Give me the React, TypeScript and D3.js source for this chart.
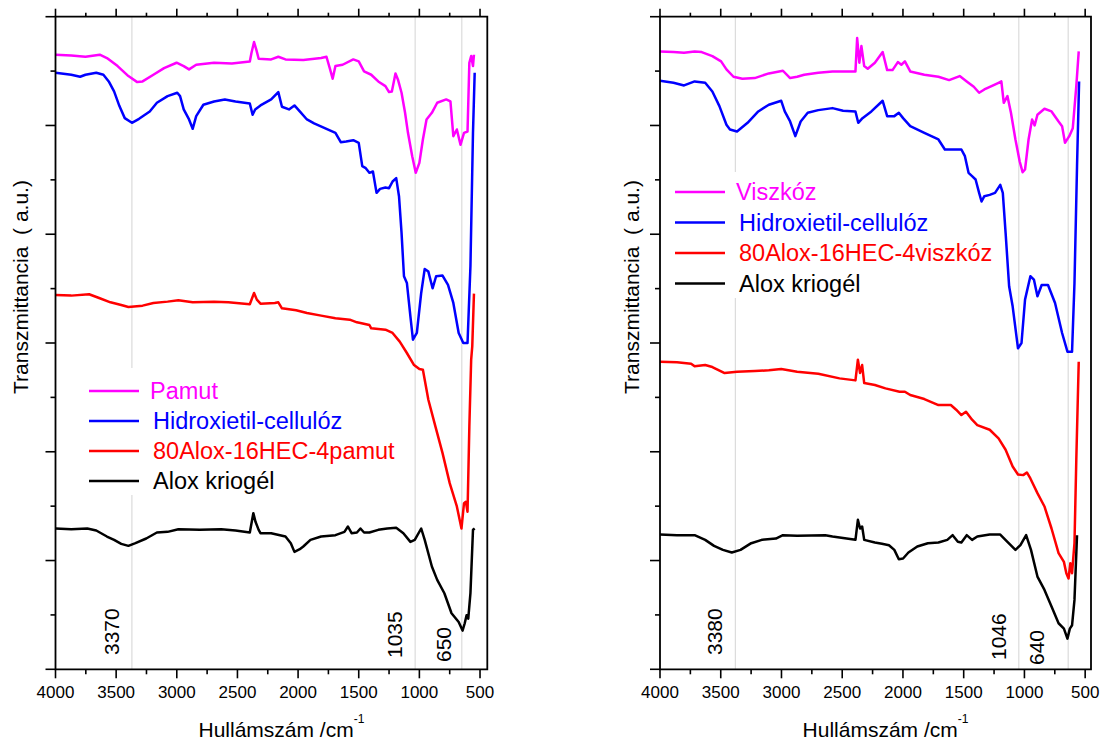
import React from "react";
import * as d3 from "d3";

type Pt = [number, number];

// wavenumber (cm-1), transmittance (a.u., stacked/offset as in the figure)
const pamut: Pt[] = [
  [4000, 92.1], [3870, 92.0], [3753, 91.8], [3635, 92.1], [3576, 91.6], [3488, 90.4], [3399, 88.9], [3326, 88.0],
  [3282, 88.1], [3193, 89.1], [3105, 90.1], [3002, 90.9], [2943, 90.4], [2899, 89.9], [2840, 90.6], [2693, 90.9],
  [2546, 90.8], [2398, 91.1], [2384, 92.4], [2363, 94.0], [2345, 92.9], [2325, 91.5], [2222, 91.4], [2163, 91.8],
  [2104, 91.4], [1957, 91.3], [1810, 91.6], [1766, 91.8], [1736, 89.9], [1715, 88.5], [1692, 90.4], [1633, 90.6],
  [1545, 91.4], [1500, 91.1], [1456, 89.6], [1397, 89.1], [1339, 88.1], [1280, 87.4], [1250, 86.5], [1227, 86.6],
  [1197, 89.3], [1177, 88.4], [1147, 86.4], [1118, 83.4], [1094, 80.4], [1059, 76.9], [1030, 74.4], [1000, 75.9],
  [971, 79.4], [941, 82.4], [897, 83.4], [853, 84.9], [779, 85.4], [744, 85.1], [720, 79.9], [691, 80.9],
  [661, 78.6], [632, 80.4], [603, 80.6], [588, 90.9], [573, 91.9], [558, 90.4], [550, 92.1],
];

const hecLeft: Pt[] = [
  [4000, 89.4], [3870, 89.1], [3797, 88.8], [3753, 89.1], [3664, 89.4], [3605, 89.1], [3561, 88.1], [3517, 86.6],
  [3473, 84.4], [3429, 82.6], [3370, 81.9], [3311, 82.5], [3223, 83.6], [3164, 84.9], [3076, 85.9], [2996, 86.4],
  [2973, 85.9], [2943, 83.9], [2899, 82.4], [2869, 81.0], [2840, 82.9], [2781, 84.6], [2693, 85.1], [2604, 85.4],
  [2516, 85.1], [2398, 84.8], [2375, 83.1], [2354, 83.9], [2310, 84.5], [2222, 85.4], [2163, 86.5], [2133, 84.3],
  [2075, 83.9], [2030, 84.5], [1986, 83.6], [1927, 82.4], [1868, 81.8], [1780, 81.1], [1692, 80.4], [1648, 79.0],
  [1604, 79.1], [1545, 79.3], [1500, 78.9], [1471, 75.4], [1442, 75.1], [1412, 74.4], [1383, 74.6], [1353, 71.4],
  [1324, 72.0], [1280, 72.2], [1250, 72.1], [1221, 73.1], [1191, 73.6], [1168, 70.9], [1147, 65.4], [1127, 58.9],
  [1103, 57.9], [1074, 52.9], [1053, 49.4], [1021, 50.4], [985, 56.4], [956, 60.0], [926, 59.6], [891, 57.1],
  [862, 58.9], [809, 59.0], [764, 57.6], [720, 54.9], [676, 50.4], [638, 48.9], [603, 48.9], [579, 60.4],
  [558, 80.4], [544, 89.4],
];

const aloxHecPamut: Pt[] = [
  [4000, 56.1], [3870, 56.0], [3723, 56.2], [3635, 55.6], [3547, 55.0], [3458, 54.6], [3399, 54.3], [3282, 54.5],
  [3193, 54.9], [3076, 55.1], [2987, 55.3], [2869, 55.0], [2693, 55.1], [2575, 55.0], [2398, 54.7], [2363, 56.4],
  [2340, 55.4], [2310, 54.8], [2192, 54.9], [2163, 55.0], [2133, 54.1], [2016, 53.8], [1927, 53.4], [1810, 53.0],
  [1692, 52.6], [1574, 52.4], [1515, 52.0], [1486, 51.9], [1412, 51.6], [1397, 51.1], [1280, 50.9], [1221, 50.4],
  [1162, 49.1], [1103, 47.4], [1044, 45.6], [1000, 45.0], [971, 44.9], [926, 40.4], [868, 36.4], [809, 32.4],
  [750, 27.9], [691, 24.4], [653, 21.1], [632, 24.9], [617, 25.1], [603, 23.6], [588, 36.4], [573, 46.4],
  [564, 48.4], [550, 56.3],
];

const aloxLeft: Pt[] = [
  [4000, 21.1], [3870, 21.0], [3738, 21.1], [3664, 20.8], [3576, 19.9], [3517, 19.4], [3458, 18.8], [3399, 18.5],
  [3341, 18.9], [3252, 19.6], [3164, 20.5], [3076, 20.6], [2987, 21.0], [2811, 20.9], [2634, 21.0], [2516, 20.8],
  [2398, 20.5], [2369, 23.4], [2351, 22.1], [2325, 20.9], [2310, 20.4], [2222, 20.4], [2104, 19.9], [2060, 18.9],
  [2030, 17.6], [1986, 18.0], [1957, 18.4], [1898, 19.4], [1810, 19.9], [1692, 20.1], [1618, 20.6], [1589, 21.4],
  [1559, 20.4], [1515, 20.5], [1486, 21.1], [1456, 20.5], [1412, 20.5], [1339, 20.9], [1265, 21.1], [1191, 21.2],
  [1132, 20.4], [1074, 19.1], [1038, 19.4], [985, 21.1], [956, 19.4], [897, 15.4], [853, 13.4], [794, 11.4],
  [735, 8.4], [676, 7.1], [644, 5.8], [626, 6.9], [611, 8.1], [597, 7.6], [579, 11.4], [558, 20.9], [544, 21.1],
];

const viszkoz: Pt[] = [
  [4000, 92.6], [3889, 92.5], [3802, 92.4], [3715, 92.6], [3657, 92.5], [3569, 91.9], [3497, 91.1], [3453, 89.9],
  [3395, 88.8], [3322, 88.5], [3220, 88.6], [3104, 89.3], [2988, 89.7], [2929, 88.6], [2871, 88.8], [2813, 89.1],
  [2697, 89.4], [2580, 89.6], [2391, 89.6], [2377, 94.6], [2359, 90.9], [2342, 93.4], [2319, 90.4], [2290, 90.0],
  [2231, 90.9], [2167, 92.5], [2130, 89.8], [2086, 89.8], [2042, 91.0], [2013, 90.6], [1984, 91.1], [1940, 89.6],
  [1824, 89.1], [1708, 88.8], [1620, 88.3], [1533, 88.9], [1475, 88.1], [1417, 87.3], [1373, 86.4], [1330, 86.9],
  [1271, 87.4], [1213, 87.9], [1190, 88.1], [1170, 84.9], [1140, 85.9], [1111, 83.4], [1074, 79.4], [1039, 76.1],
  [1015, 74.5], [995, 74.9], [966, 79.4], [937, 82.4], [916, 81.5], [893, 83.1], [835, 84.0], [777, 83.6],
  [719, 82.1], [690, 81.4], [666, 78.9], [631, 79.9], [602, 81.1], [573, 87.4], [553, 92.6],
];

const hecRight: Pt[] = [
  [4000, 88.2], [3889, 87.9], [3802, 87.5], [3715, 88.1], [3628, 87.9], [3569, 86.6], [3511, 84.4], [3453, 81.6],
  [3424, 80.9], [3366, 80.6], [3279, 81.9], [3191, 83.6], [3104, 84.6], [3002, 85.2], [2973, 83.6], [2929, 82.1],
  [2886, 79.9], [2842, 82.1], [2784, 83.4], [2697, 83.8], [2580, 84.1], [2493, 83.7], [2391, 83.6], [2368, 81.9],
  [2333, 82.6], [2260, 83.6], [2167, 85.2], [2130, 82.9], [2071, 82.9], [2034, 83.4], [1999, 82.6], [1940, 81.4],
  [1824, 80.4], [1708, 79.4], [1655, 77.9], [1591, 77.9], [1519, 77.9], [1490, 76.9], [1460, 74.4], [1431, 73.9],
  [1402, 73.4], [1373, 71.4], [1353, 70.1], [1330, 70.9], [1286, 71.1], [1242, 71.4], [1199, 72.6], [1178, 71.4],
  [1155, 65.4], [1126, 57.4], [1097, 54.4], [1053, 48.1], [1024, 48.9], [995, 55.4], [951, 58.9], [922, 58.4],
  [893, 55.9], [858, 57.6], [806, 57.6], [748, 54.9], [690, 50.4], [646, 47.6], [608, 47.6], [588, 57.9],
  [567, 75.4], [550, 88.1],
];

const aloxHecViszkoz: Pt[] = [
  [4000, 46.1], [3860, 46.0], [3744, 45.8], [3715, 45.4], [3628, 45.6], [3569, 45.3], [3468, 44.4], [3366, 44.6],
  [3220, 44.7], [3104, 44.8], [3002, 45.0], [2871, 44.6], [2697, 44.3], [2522, 43.6], [2391, 43.3], [2371, 46.4],
  [2353, 44.4], [2336, 45.6], [2319, 42.9], [2231, 42.6], [2144, 42.1], [2028, 41.6], [1984, 41.6], [1940, 41.1],
  [1824, 40.5], [1708, 39.6], [1606, 39.6], [1562, 38.9], [1519, 38.1], [1481, 38.6], [1431, 37.4], [1388, 36.6],
  [1286, 35.9], [1213, 34.6], [1155, 32.9], [1097, 30.4], [1053, 29.2], [1010, 29.1], [980, 29.5], [951, 28.6],
  [893, 26.4], [835, 24.4], [777, 21.1], [719, 17.4], [675, 16.1], [655, 14.4], [637, 13.6], [622, 15.9],
  [608, 14.4], [588, 18.9], [573, 31.4], [553, 46.1],
];

const aloxRight: Pt[] = [
  [4000, 20.2], [3860, 20.1], [3715, 20.1], [3628, 19.4], [3555, 18.5], [3482, 17.9], [3409, 17.5], [3337, 17.9],
  [3249, 18.9], [3162, 19.4], [3046, 19.6], [2988, 20.1], [2871, 20.0], [2639, 20.1], [2580, 19.9], [2391, 19.4],
  [2371, 22.4], [2353, 21.1], [2336, 21.4], [2319, 19.4], [2231, 19.0], [2173, 18.8], [2115, 18.6], [2071, 17.9],
  [2034, 16.5], [1999, 16.6], [1955, 17.5], [1882, 18.4], [1795, 18.9], [1708, 19.0], [1635, 19.4], [1591, 20.1],
  [1548, 19.1], [1519, 19.0], [1475, 20.1], [1431, 19.4], [1388, 19.9], [1286, 20.2], [1199, 20.2], [1140, 19.1],
  [1074, 17.9], [1033, 18.6], [986, 20.1], [946, 17.9], [893, 13.9], [835, 11.9], [777, 9.4], [719, 6.9],
  [675, 6.1], [646, 4.6], [626, 6.1], [608, 6.6], [588, 10.4], [567, 20.1],
];

const xTicks = [4000, 3500, 3000, 2500, 2000, 1500, 1000, 500];
const leftNames = ["Pamut", "Hidroxietil-cellulóz", "80Alox-16HEC-4pamut", "Alox kriogél"];
const rightNames = ["Viszkóz", "Hidroxietil-cellulóz", "80Alox-16HEC-4viszkóz", "Alox kriogél"];
const colors = ["#ff00ff", "#0000ff", "#ff0000", "#000000"];
const leftMarks = [3370, 1035, 650];
const rightMarks = [3380, 1046, 640];
const yMax = 97.8;

const font = "'Liberation Sans', Arial, sans-serif";
const TOP = 16.7;
const BOTTOM = 669.3;

function Panel({ x0, x1, xEnd, series, names, marks, markDx, markY, legX, legY, legStep, legBox, yLabX }: any) {
  const x = d3.scaleLinear().domain([4000, xEnd]).range([x0, x1]);
  const y = d3.scaleLinear().domain([0, yMax]).range([BOTTOM, TOP]);
  const line = d3.line<Pt>().x(d => x(d[0])).y(d => y(d[1]));
  const minor = d3.range(4000, xEnd, -250);
  const yTicks = d3.range(0, 13).map(i => (i * yMax) / 12);

  return (
    <g fontFamily={font}>
      {/* reference lines */}
      {marks.map((m: number) => (
        <line key={m} x1={x(m)} x2={x(m)} y1={TOP} y2={BOTTOM} stroke="#d4d4d4" strokeWidth={1} />
      ))}
      <rect x={legBox[0]} y={legBox[1]} width={legBox[2]} height={legBox[3]} fill="#fff" />
      {marks.map((m: number, i: number) => (
        <text key={"t" + m} transform={`translate(${x(m) + markDx[i]},${markY[i]}) rotate(-90)`} fontSize={21} fill="#000">
          {m}
        </text>
      ))}

      {series.map((s: Pt[], i: number) => (
        <path key={i} d={line(s) || ""} fill="none" stroke={colors[i]} strokeWidth={2.5} strokeLinejoin="round" />
      ))}

      {/* frame */}
      <path d={`M${x0},${TOP}V${BOTTOM}H${x1}V${TOP}Z`} fill="none" stroke="#000" strokeWidth={1.8} />
      {minor.map(w => {
        const major = w % 500 === 0;
        return (
          <g key={w}>
            <line x1={x(w)} x2={x(w)} y1={TOP} y2={TOP - (major ? 8 : 4)} stroke="#000" strokeWidth={1.6} />
            <line x1={x(w)} x2={x(w)} y1={BOTTOM} y2={BOTTOM + (major ? 9 : 5)} stroke="#000" strokeWidth={1.6} />
          </g>
        );
      })}
      {yTicks.map((v, i) => (
        <line key={i} x1={x0} x2={x0 - (i % 2 === 0 ? 10 : 5)} y1={y(v)} y2={y(v)} stroke="#000" strokeWidth={1.6} />
      ))}
      {xTicks.map(t => (
        <text key={t} x={x(t)} y={698} textAnchor="middle" fontSize={17} fill="#000">
          {t}
        </text>
      ))}

      {/* axis titles */}
      <text x={(x0 + x1) / 2 + 10} y={737} textAnchor="middle" fontSize={21} fill="#000">
        Hullámszám /cm
        <tspan dy={-14} fontSize={12}>-1</tspan>
      </text>
      <text transform={`translate(${yLabX},394) rotate(-90)`} fontSize={21} fill="#000" style={{ whiteSpace: "pre" }}>
        {"Transzmittancia  ( a.u.)"}
      </text>

      {/* legend */}
      {names.map((n: string, i: number) => {
        const ly = legY + i * legStep;
        return (
          <g key={n}>
            <line x1={legX} x2={legX + 50} y1={ly} y2={ly} stroke={colors[i]} strokeWidth={2.5} />
            <text x={legX + (i === 0 ? 61 : 64)} y={ly + 8} fontSize={23.5} fill={colors[i]}>
              {n}
            </text>
          </g>
        );
      })}
    </g>
  );
}

export default function App() {
  return (
    <svg width={1104} height={744} style={{ position: "absolute", left: 0, top: 0, background: "#fff" }}>
      <rect width={1104} height={744} fill="#fff" />
      <Panel
        x0={55.5}
        x1={487.3}
        xEnd={440}
        series={[pamut, hecLeft, aloxHecPamut, aloxLeft]}
        names={leftNames}
        marks={leftMarks}
        markDx={[-13, -13, -11]}
        markY={[655, 658, 662]}
        legX={89}
        legY={391}
        legStep={30}
        legBox={[80, 368, 328, 127]}
        yLabX={28}
      />
      <Panel
        x0={660}
        x1={1091}
        xEnd={452}
        series={[viszkoz, hecRight, aloxHecViszkoz, aloxRight]}
        names={rightNames}
        marks={rightMarks}
        markDx={[-13, -13, -24]}
        markY={[655, 660, 665]}
        legX={675}
        legY={192}
        legStep={30.5}
        legBox={[665, 172, 340, 126]}
        yLabX={638.5}
      />
    </svg>
  );
}
